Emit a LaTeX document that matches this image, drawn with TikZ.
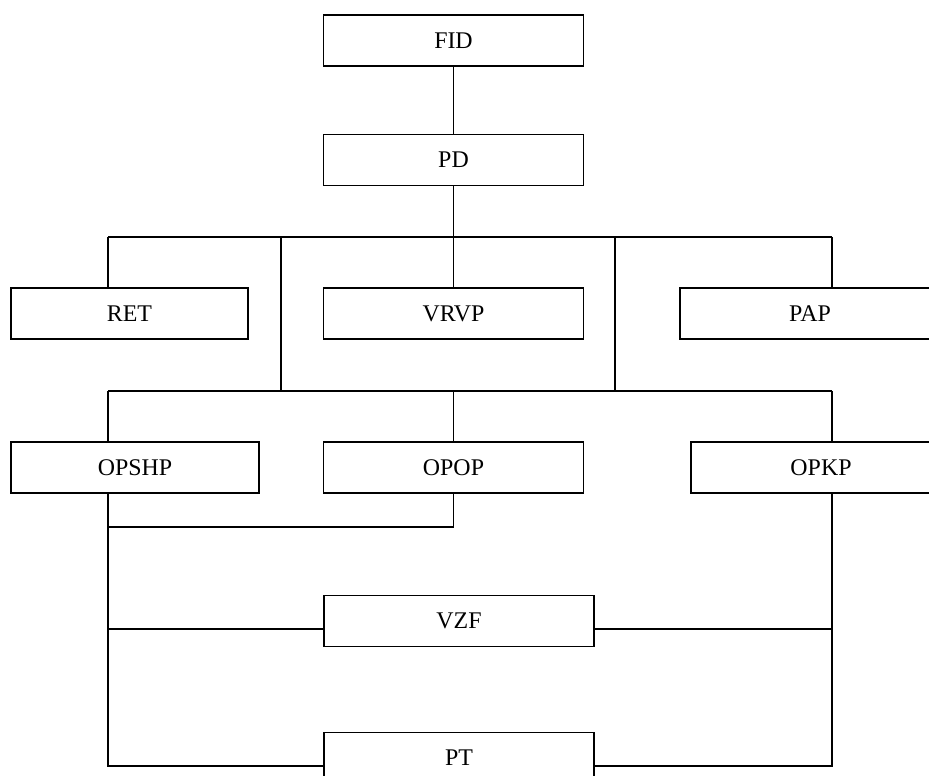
\documentclass[tikz,border=0pt]{standalone}
\usepackage{fontspec}
\setmainfont{Liberation Serif}
\usetikzlibrary{positioning}

\tikzstyle{block} = [draw, rectangle, line width=1.1pt, minimum height=1.02cm, inner sep=0pt, font=\fontsize{13.6}{16}\selectfont]
\tikzstyle{wide} = [block, minimum width=5.2cm]

\begin{document}
\begin{tikzpicture}[x=0.02cm, y=-0.02cm, line width=1.1pt]
  \clip (0,0) rectangle (929,776);
  \node [wide] (fid) at (453.5,40.5) {FID};
  \node [wide] (pd) at (453.5,160) {PD};
  \node [block, minimum width=4.74cm] (ret) at (129.5,313.5) {RET};
  \node [wide] (vrvp) at (453.5,313.5) {VRVP};
  \node [wide] (pap) at (810,313.5) {PAP};
  \node [block, minimum width=4.96cm] (opshp) at (135,467.5) {OPSHP};
  \node [wide] (opop) at (453.5,467.5) {OPOP};
  \node [wide] (opkp) at (821,467.5) {OPKP};
  \node [block, minimum width=5.4cm] (vzf) at (459,621) {VZF};
  \node [block, minimum width=5.4cm] (pt) at (459,758) {PT};

  \node [coordinate] (b1l) at (108,237) {};
  \node [coordinate] (b1a) at (281,237) {};
  \node [coordinate] (b1b) at (615,237) {};
  \node [coordinate] (b1r) at (832,237) {};
  \node [coordinate] (b2l) at (108,391) {};
  \node [coordinate] (b2a) at (281,391) {};
  \node [coordinate] (b2m) at (453.5,391) {};
  \node [coordinate] (b2b) at (615,391) {};
  \node [coordinate] (b2r) at (832,391) {};
  \node [coordinate] (j) at (108,527) {};
  \node [coordinate] (lz) at (108,629) {};
  \node [coordinate] (rz) at (832,629) {};
  \node [coordinate] (lt) at (108,766) {};
  \node [coordinate] (rt) at (832,766) {};

  \draw (fid) -- (pd);
  \draw (pd) -- (vrvp);
  \draw (b1l) -- (b1r);
  \draw (b1l) -- (b1l |- ret.north);
  \draw (b1r) -- (b1r |- pap.north);
  \draw (b1a) -- (b2a);
  \draw (b1b) -- (b2b);
  \draw (b2l) -- (b2r);
  \draw (b2l) -- (b2l |- opshp.north);
  \draw (b2m) -- (opop);
  \draw (b2r) -- (b2r |- opkp.north);
  \draw (b2l |- opshp.south) -- (j) -| (opop.south);
  \draw (j) -- (lt) -- (lt -| pt.west);
  \draw (lz) -- (lz -| vzf.west);
  \draw (b2r |- opkp.south) -- (rt) -- (rt -| pt.east);
  \draw (rz) -- (rz -| vzf.east);
\end{tikzpicture}
\end{document}
